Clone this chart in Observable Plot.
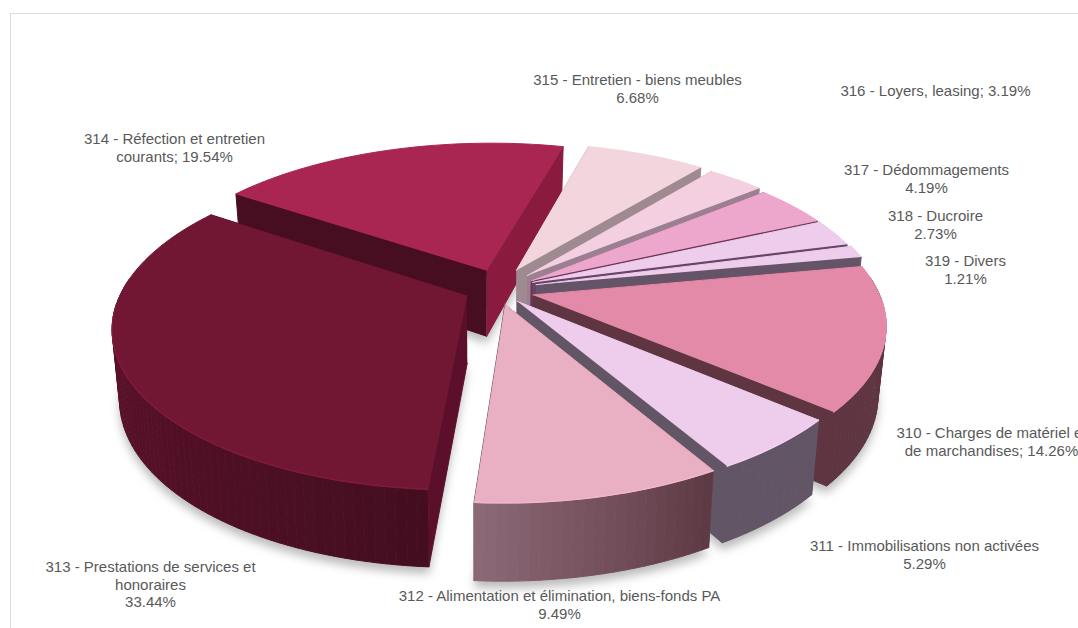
<!DOCTYPE html>
<html>
<head>
<meta charset="utf-8">
<script src="https://cdn.jsdelivr.net/npm/d3@7"></script>
<script src="https://cdn.jsdelivr.net/npm/@observablehq/plot@0.6"></script>
<style>
  html, body { margin: 0; padding: 0; background: #fff; overflow: hidden; }
</style>
</head>
<body>
<div id="chart"></div>
<script>
// Account shares, in percent, clockwise from account 310.
const accounts = [310, 311, 312, 313, 314, 315, 316, 317, 318, 319];
const shares = [14.26, 5.29, 9.49, 33.44, 19.54, 6.68, 3.19, 4.19, 2.73, 1.21];
const labelTexts = [
  "310 - Charges de matériel et\nde marchandises; ",
  "311 - Immobilisations non activées\n",
  "312 - Alimentation et élimination, biens-fonds PA\n",
  "313 - Prestations de services et\nhonoraires\n",
  "314 - Réfection et entretien\ncourants; ",
  "315 - Entretien - biens meubles\n",
  "316 - Loyers, leasing; ",
  "317 - Dédommagements\n",
  "318 - Ducroire\n",
  "319 - Divers\n"
];

// Look of each slice: top surface, cut faces, outer wall gradient.
const topColors = ["#e28aa7", "#eecdec", "#e9b0c4", "#711733", "#aa2652", "#f3d5de", "#f3cfe0", "#eda6cc", "#eecdec", "#eecdec"];
const startFaceColors = ["#5e3540", "#625566", "#6b4a56", "#5c0f2a", "#470d20", "#a08a92", "#9a8090", "#6e3353", "#6a4468", "#655468"];
const endFaceColors = ["#5e3540", "#625566", "#6b4a56", "#5c0f2a", "#8a1a3e", "#a08a92", "#9a8090", "#6e3353", "#6a4468", "#655468"];
const wallFrom = ["#5e3540", "#625566", "#5e3a44", "#440e20", "#5c1030", "#a08a92", "#9a8090", "#6e3353", "#6a4468", "#655468"];
const wallTo = ["#5e3540", "#625566", "#8d6a78", "#6a1232", "#5c1030", "#a08a92", "#9a8090", "#6e3353", "#6a4468", "#655468"];
const rimStrength = [0.05, 0.05, 0.1, 0.4, 0.3, 0, 0, 0, 0, 0];
// How far each slice is pulled out of the pie, in units of the radius (across, towards the viewer).
const pullAcross = [0.05, 0.005, -0.03, -0.14, -0.085, 0.003, 0.035, 0.045, 0.05, 0.06];
const pullToward = [0.06, 0.1, 0.12, 0.065, -0.1, -0.1, -0.065, -0.03, -0.02, -0.005];
// Label anchors.
const labelX = [991, 924, 559, 150, 174, 637, 935, 926, 935, 965];
const labelY = [441.5, 554.5, 604.5, 584.5, 147.5, 88.5, 90.5, 178.5, 224.5, 269.5];
const lineStep = 17.5;
// Far slices are painted first.
const paintOrder = [4, 5, 6, 7, 8, 9, 0, 1, 2, 3];

// Tilted pie with perspective: u runs across, v runs towards the viewer.
const pie = {cx: 515, cy: 285, rx: 343, ry: 155, persp: 0.18, depth: 67, startAngle: 79.3, waist: 0.98, waistX: 480};
const rad = Math.PI / 180;
const total = d3.sum(shares);

function topPoint(u, v) {
  const s = 1 / (1 - pie.persp * v);
  return {x: pie.cx + u * pie.rx * s, y: pie.cy + v * pie.ry * s};
}
function basePoint(u, v) {
  const p = topPoint(u, v);
  return {
    x: pie.waistX + (p.x - pie.waistX) * pie.waist,
    y: p.y + pie.depth * (1 + 0.15 * v)
  };
}

let cursor = pie.startAngle;
const slices = accounts.map((account, i) => {
  const a0 = cursor;
  const a1 = cursor + (shares[i] / total) * 360;
  cursor = a1;
  return {i, account, a0, a1};
});

const polygons = [];
const shadows = [];
const rims = [];
function pushPolygon(list, id, fill, points) {
  for (const p of points) list.push({id, fill, x: p.x, y: p.y});
}

for (const k of paintOrder) {
  const {i, a0, a1} = slices[k];
  const du = pullAcross[i], dv = pullToward[i];
  const at = (a) => [du + Math.sin(a * rad), dv - Math.cos(a * rad)];
  const steps = Math.max(4, Math.ceil((a1 - a0) / 1.5));
  const angles = d3.range(steps + 1).map((j) => a0 + ((a1 - a0) * j) / steps);
  const topArc = angles.map((a) => topPoint(...at(a)));
  const baseArc = angles.map((a) => basePoint(...at(a)));
  const apexTop = topPoint(du, dv);
  const apexBase = basePoint(du, dv);

  pushPolygon(shadows, `s${i}`, "#555555", [apexBase, ...baseArc]);

  // Cut faces go under the wall so their lower corners never show through it.
  pushPolygon(polygons, `a${i}`, startFaceColors[i], [apexTop, topArc[0], baseArc[0], apexBase]);
  pushPolygon(polygons, `b${i}`, endFaceColors[i], [apexTop, topArc[steps], baseArc[steps], apexBase]);

  // Outer wall, only where the arc faces the viewer, in strips so the shade drifts along it.
  const shade = d3.interpolateRgb(wallFrom[i], wallTo[i]);
  for (let j = 0; j < steps; j++) {
    if (-Math.cos(angles[j] * rad) < -0.1 && -Math.cos(angles[j + 1] * rad) < -0.1) continue;
    pushPolygon(polygons, `w${i}-${j}`, d3.color(shade(j / steps)).formatHex(), [topArc[j], topArc[j + 1], baseArc[j + 1], baseArc[j]]);
  }
  pushPolygon(polygons, `t${i}`, topColors[i], [apexTop, ...topArc]);

  // Bright rim along the near part of the arc.
  if (rimStrength[i] > 0) {
    const rim = angles.filter((a) => at(a)[1] > 0.1).map((a) => topPoint(...at(a)));
    pushPolygon(rims, `r${i}`, d3.color(topColors[i]).brighter(rimStrength[i]).formatHex(), rim);
  }
}

// One text row per line.
const labels = accounts.flatMap((account, i) => {
  const lines = `${labelTexts[i]}${shares[i].toFixed(2)}%`.split("\n");
  return lines.map((text, j) => ({
    text,
    x: labelX[i],
    y: labelY[i] + (j - (lines.length - 1) / 2) * lineStep
  }));
});

const chart = Plot.plot({
  width: 1078,
  height: 628,
  margin: 0,
  x: {domain: [0, 1078], range: [0, 1078], axis: null},
  y: {domain: [0, 628], range: [0, 628], axis: null},
  color: {type: "identity"},
  style: {background: "#fff", overflow: "hidden"},
  marks: [
    Plot.ruleX([10], {y1: 13, y2: 628, stroke: "#dcdcdc", strokeWidth: 1}),
    Plot.ruleY([13], {x1: 10, x2: 1078, stroke: "#dcdcdc", strokeWidth: 1}),
    Plot.line(shadows, {x: "x", y: "y", z: "id", fill: "fill", stroke: "none", dy: 7, fillOpacity: 0.4, imageFilter: "blur(5px)"}),
    Plot.line(polygons, {x: "x", y: "y", z: "id", fill: "fill", stroke: "fill", strokeWidth: 1}),
    Plot.line(rims, {x: "x", y: "y", z: "id", stroke: "fill", strokeWidth: 1.4, imageFilter: "blur(0.7px)"}),
    Plot.text(labels, {
      x: "x", y: "y", text: "text", fill: "#595959",
      fontFamily: "Liberation Sans", fontSize: 15, textAnchor: "middle"
    })
  ]
});
document.getElementById("chart").appendChild(chart);
</script>
</body>
</html>
